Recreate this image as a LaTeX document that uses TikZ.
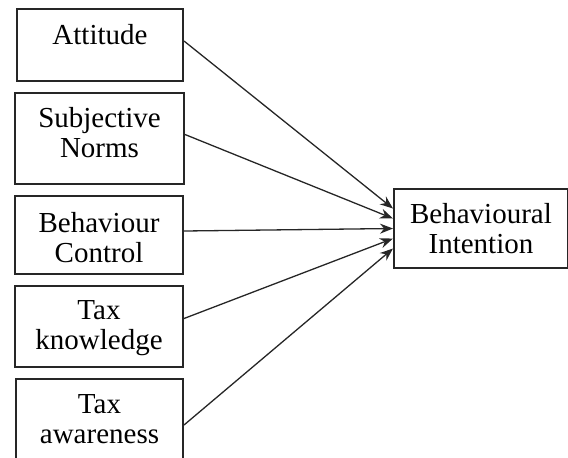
\documentclass[tikz,border=0pt]{standalone}
\usepackage{fontspec}
\setmainfont{Liberation Serif}
\usetikzlibrary{arrows.meta,positioning}

\begin{document}
\begin{tikzpicture}[
        x=0.5pt, y=-0.5pt,
        font=\fontsize{14.5}{15}\selectfont,
        % boxes and their texts
        box/.style={rectangle, draw=black!85, line width=1pt, anchor=north west, inner sep=0pt},
        boxtext/.style={align=center, inner sep=0pt},
        arrow/.style={->, line width=0.65pt, draw=black!85, >={Stealth[length=6.5pt, width=5pt]}}
    ]

    \useasboundingbox (0,0) rectangle (568,457);

    % Factores (columna izquierda)
    \node[box, minimum width=83pt, minimum height=36pt] (att) at (16,8) {};
    \node[box, minimum width=84.5pt, minimum height=45.5pt] (norms) at (14,92) {};
    \node[box, minimum width=84pt, minimum height=39pt] (control) at (14,195) {};
    \node[box, minimum width=84pt, minimum height=40.5pt] (know) at (14,285) {};
    \node[box, minimum width=83.5pt, minimum height=46pt] (aware) at (15,378) {};

    % Variable dependiente
    \node[box, minimum width=87pt, minimum height=39.5pt] (intent) at (393,188) {};

    % Textos
    \node[boxtext, below=8pt of att.north] (attText) {Attitude};
    \node[boxtext, below=7.5pt of norms.north] (normsText) {Subjective\\Norms};
    \node[boxtext, below=8.5pt of control.north] (controlText) {Behaviour\\Control};
    \node[boxtext, below=7.5pt of know.north] (knowText) {Tax\\knowledge};
    \node[boxtext, below=8pt of aware.north] (awareText) {Tax\\awareness};
    \node[boxtext, below=7.5pt of intent.north] (intentText) {Behavioural\\Intention};

    % Flechas
    \draw[arrow] ([yshift=2pt]att.east) -- ([yshift=10pt]intent.west);
    \draw[arrow] ([yshift=2pt]norms.east) -- ([yshift=5pt]intent.west);
    \draw[arrow] ([yshift=2pt]control.east) -- (intent.west);
    \draw[arrow] ([yshift=4pt]know.east) -- ([yshift=-5pt]intent.west);
    \draw[arrow] (aware.east) -- ([yshift=-10pt]intent.west);

\end{tikzpicture}
\end{document}
